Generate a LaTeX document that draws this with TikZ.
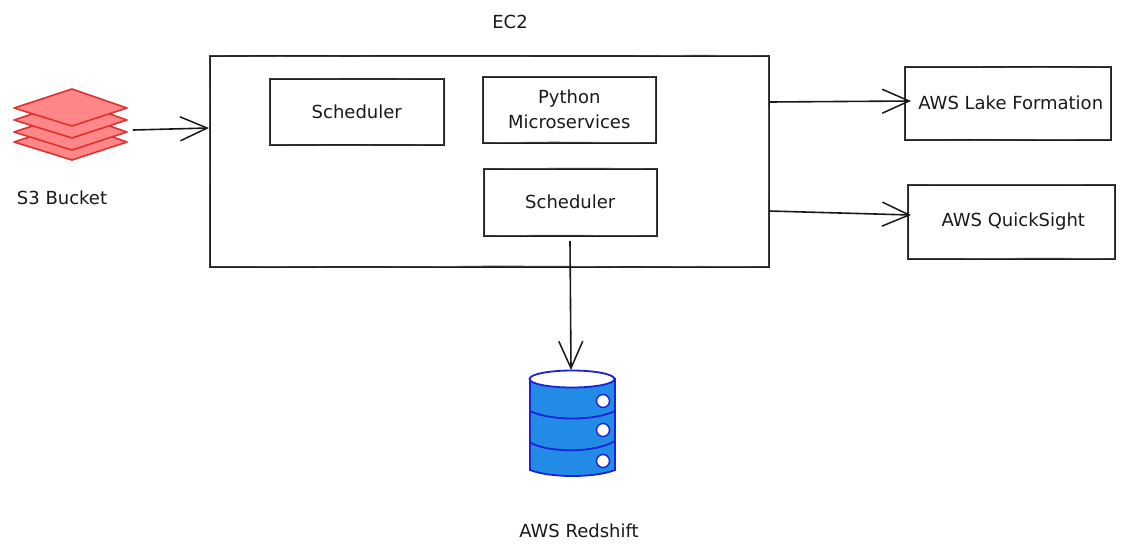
\documentclass[tikz,border=0pt]{standalone}
\usepackage{fontspec}
\setmainfont{DejaVu Sans}
\usetikzlibrary{arrows.meta,decorations.pathmorphing}
\tikzset{
	roughline/.style={decoration={random steps, segment length=70pt, amplitude=0.7pt}, decorate},
	sketchbox/.style={draw=black!90, line width=1.5pt, inner sep=0pt, anchor=north west, align=center,
		postaction={draw=black!70, line width=0.8pt, roughline}},
	sketchlabel/.style={font=\fontsize{18}{25}\selectfont, text=black!90},
	sketcharrow/.style={draw=black!90, line width=1.6pt, -{Straight Barb[length=27pt,width=24pt,line width=1.5pt]}},
}
\definecolor{s3fill}{HTML}{FF8787}
\definecolor{s3line}{HTML}{E03131}
\definecolor{dbfill}{HTML}{228BE6}
\definecolor{dbline}{HTML}{1C22D8}
\pgfmathsetseed{7}
\begin{document}
\begin{tikzpicture}[x=1pt, y=-1pt]
	\useasboundingbox (0, 0) rectangle (1123, 555);
	%%%%% BOXES %%%%%
	\node[sketchbox, minimum width=559pt, minimum height=211pt] (ec2) at (209, 55) {};
	\node[sketchlabel] (ec2label) at (510, 22) {EC2};
	\node[sketchbox, sketchlabel, minimum width=174pt, minimum height=66pt] (schedulera) at (269, 78) {Scheduler};
	\node[sketchbox, sketchlabel, minimum width=173pt, minimum height=66pt] (python) at (482, 76) {Python\\Microservices};
	\node[sketchbox, sketchlabel, minimum width=173pt, minimum height=67pt] (schedulerb) at (483, 168) {Scheduler};
	\node[sketchbox, sketchlabel, minimum width=206pt, minimum height=73pt] (lake) at (904, 66) {\hspace*{6pt}\raisebox{-3pt}{AWS Lake Formation}};
	\node[sketchbox, sketchlabel, minimum width=207pt, minimum height=74pt] (quick) at (907, 184) {\hspace*{4pt}AWS QuickSight};
	%%%%% S3 ICON %%%%%
	\foreach \dy in {34, 24, 12, 0} {
		\draw[fill=s3fill, draw=s3line, line width=1.6pt, line join=round]
			(14, 108+\dy) -- (72, 89+\dy) -- (127, 108+\dy) -- (72, 126+\dy) -- cycle;
	}
	\node[sketchlabel] (s3label) at (62, 198) {S3 Bucket};
	%%%%% REDSHIFT ICON %%%%%
	\draw[fill=dbfill, draw=dbline, line width=1.8pt] (530, 379) -- (530, 470)
		.. controls (550, 478) and (595, 478) .. (615, 470) -- (615, 379) -- cycle;
	\draw[fill=white, draw=dbline, line width=1.8pt] (572, 379) ellipse (42.5 and 8.5);
	\draw[draw=dbline, line width=1.8pt] (530, 411) .. controls (550, 421) and (595, 421) .. (615, 411);
	\draw[draw=dbline, line width=1.8pt] (531, 443) .. controls (550, 453) and (595, 453) .. (615, 441);
	\foreach \dotname/\doty in {dota/401, dotb/430, dotc/461} {
		\node[circle, fill=white, draw=dbline, line width=1.4pt, minimum size=13pt, inner sep=0pt] (\dotname) at (603, \doty) {};
	}
	\node[sketchlabel] (redshiftlabel) at (579, 531) {AWS Redshift};
	%%%%% ARROWS %%%%%
	\coordinate (s3out) at (133, 130);
	\coordinate (ec2in) at (209, 128);
	\coordinate (lakeout) at (769, 102);
	\coordinate (lakein) at (911, 101);
	\coordinate (quickout) at (769, 211);
	\coordinate (quickin) at (911, 215);
	\coordinate (dbout) at (570, 241);
	\coordinate (dbin) at (571, 370);
	\draw[sketcharrow] (s3out) -- (ec2in);
	\draw[sketcharrow] (lakeout) -- (lakein);
	\draw[sketcharrow] (quickout) -- (quickin);
	\draw[sketcharrow] (dbout) -- (dbin);
\end{tikzpicture}
\end{document}
